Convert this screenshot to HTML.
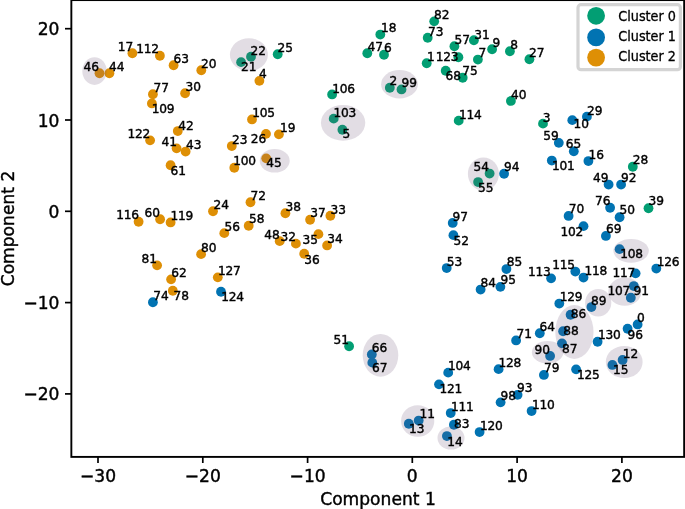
<!DOCTYPE html><html><head><meta charset="utf-8"><title>Clusters</title><style>html,body{margin:0;padding:0;background:#fff}svg{display:block;will-change:transform}text{font-family:"DejaVu Sans","Liberation Sans",sans-serif;fill:#000}</style></head><body>
<svg width="685" height="509" viewBox="0 0 685 509">
<rect width="685" height="509" fill="#fff"/>
<g>
<circle cx="99.5" cy="73.25" r="4.9" fill="#de8f05"/>
<circle cx="109.4" cy="73.25" r="4.9" fill="#de8f05"/>
<circle cx="132.4" cy="53.25" r="4.9" fill="#de8f05"/>
<circle cx="159.9" cy="55.75" r="4.9" fill="#de8f05"/>
<circle cx="173.6" cy="65.25" r="4.9" fill="#de8f05"/>
<circle cx="201.3" cy="70.25" r="4.9" fill="#de8f05"/>
<circle cx="152.9" cy="94.25" r="4.9" fill="#de8f05"/>
<circle cx="185.1" cy="93.25" r="4.9" fill="#de8f05"/>
<circle cx="151.9" cy="103.45" r="4.9" fill="#de8f05"/>
<circle cx="251.0" cy="56.75" r="4.9" fill="#029e73"/>
<circle cx="241.1" cy="62.15" r="4.9" fill="#029e73"/>
<circle cx="277.7" cy="54.25" r="4.9" fill="#029e73"/>
<circle cx="259.4" cy="80.85" r="4.9" fill="#de8f05"/>
<circle cx="380.3" cy="34.55" r="4.9" fill="#029e73"/>
<circle cx="367.3" cy="53.25" r="4.9" fill="#029e73"/>
<circle cx="384.0" cy="54.75" r="4.9" fill="#029e73"/>
<circle cx="332.1" cy="94.45" r="4.9" fill="#029e73"/>
<circle cx="389.8" cy="87.75" r="4.9" fill="#029e73"/>
<circle cx="401.5" cy="89.45" r="4.9" fill="#029e73"/>
<circle cx="252.0" cy="119.45" r="4.9" fill="#de8f05"/>
<circle cx="333.7" cy="118.65" r="4.9" fill="#029e73"/>
<circle cx="342.4" cy="129.75" r="4.9" fill="#029e73"/>
<circle cx="434.2" cy="21.35" r="4.9" fill="#029e73"/>
<circle cx="427.7" cy="37.75" r="4.9" fill="#029e73"/>
<circle cx="454.4" cy="46.25" r="4.9" fill="#029e73"/>
<circle cx="473.9" cy="40.25" r="4.9" fill="#029e73"/>
<circle cx="492.1" cy="49.25" r="4.9" fill="#029e73"/>
<circle cx="509.9" cy="51.25" r="4.9" fill="#029e73"/>
<circle cx="529.4" cy="59.25" r="4.9" fill="#029e73"/>
<circle cx="477.9" cy="59.55" r="4.9" fill="#029e73"/>
<circle cx="426.7" cy="63.25" r="4.9" fill="#029e73"/>
<circle cx="458.4" cy="57.25" r="4.9" fill="#029e73"/>
<circle cx="445.7" cy="70.75" r="4.9" fill="#029e73"/>
<circle cx="462.7" cy="77.75" r="4.9" fill="#029e73"/>
<circle cx="510.9" cy="100.95" r="4.9" fill="#029e73"/>
<circle cx="458.7" cy="120.65" r="4.9" fill="#029e73"/>
<circle cx="543.0" cy="123.65" r="4.9" fill="#029e73"/>
<circle cx="572.3" cy="120.15" r="4.9" fill="#0173b2"/>
<circle cx="586.9" cy="116.65" r="4.9" fill="#0173b2"/>
<circle cx="177.8" cy="131.05" r="4.9" fill="#de8f05"/>
<circle cx="150.1" cy="140.35" r="4.9" fill="#de8f05"/>
<circle cx="176.6" cy="148.35" r="4.9" fill="#de8f05"/>
<circle cx="185.6" cy="151.55" r="4.9" fill="#de8f05"/>
<circle cx="170.6" cy="165.25" r="4.9" fill="#de8f05"/>
<circle cx="231.8" cy="146.05" r="4.9" fill="#de8f05"/>
<circle cx="234.3" cy="167.75" r="4.9" fill="#de8f05"/>
<circle cx="138.6" cy="221.75" r="4.9" fill="#de8f05"/>
<circle cx="160.1" cy="219.25" r="4.9" fill="#de8f05"/>
<circle cx="170.6" cy="222.45" r="4.9" fill="#de8f05"/>
<circle cx="213.0" cy="211.25" r="4.9" fill="#de8f05"/>
<circle cx="224.3" cy="233.15" r="4.9" fill="#de8f05"/>
<circle cx="201.1" cy="254.15" r="4.9" fill="#de8f05"/>
<circle cx="266.0" cy="133.85" r="4.9" fill="#de8f05"/>
<circle cx="278.9" cy="134.35" r="4.9" fill="#de8f05"/>
<circle cx="266.2" cy="158.35" r="4.9" fill="#de8f05"/>
<circle cx="250.5" cy="202.25" r="4.9" fill="#de8f05"/>
<circle cx="285.4" cy="213.25" r="4.9" fill="#de8f05"/>
<circle cx="310.1" cy="219.75" r="4.9" fill="#de8f05"/>
<circle cx="330.4" cy="215.75" r="4.9" fill="#de8f05"/>
<circle cx="248.7" cy="225.75" r="4.9" fill="#de8f05"/>
<circle cx="279.7" cy="241.15" r="4.9" fill="#de8f05"/>
<circle cx="295.9" cy="243.65" r="4.9" fill="#de8f05"/>
<circle cx="318.4" cy="234.15" r="4.9" fill="#de8f05"/>
<circle cx="327.1" cy="245.45" r="4.9" fill="#de8f05"/>
<circle cx="304.2" cy="253.75" r="4.9" fill="#de8f05"/>
<circle cx="558.8" cy="142.85" r="4.9" fill="#0173b2"/>
<circle cx="573.8" cy="151.35" r="4.9" fill="#0173b2"/>
<circle cx="551.8" cy="160.55" r="4.9" fill="#0173b2"/>
<circle cx="489.6" cy="173.55" r="4.9" fill="#029e73"/>
<circle cx="478.1" cy="182.05" r="4.9" fill="#029e73"/>
<circle cx="504.1" cy="173.75" r="4.9" fill="#0173b2"/>
<circle cx="452.7" cy="222.95" r="4.9" fill="#0173b2"/>
<circle cx="453.4" cy="235.15" r="4.9" fill="#0173b2"/>
<circle cx="568.6" cy="215.95" r="4.9" fill="#0173b2"/>
<circle cx="583.5" cy="226.15" r="4.9" fill="#0173b2"/>
<circle cx="588.4" cy="161.05" r="4.9" fill="#0173b2"/>
<circle cx="632.8" cy="166.75" r="4.9" fill="#029e73"/>
<circle cx="608.6" cy="184.55" r="4.9" fill="#0173b2"/>
<circle cx="621.1" cy="184.55" r="4.9" fill="#0173b2"/>
<circle cx="610.1" cy="207.75" r="4.9" fill="#0173b2"/>
<circle cx="619.6" cy="217.25" r="4.9" fill="#0173b2"/>
<circle cx="648.5" cy="208.25" r="4.9" fill="#029e73"/>
<circle cx="605.9" cy="235.95" r="4.9" fill="#0173b2"/>
<circle cx="619.6" cy="249.15" r="4.9" fill="#0173b2"/>
<circle cx="157.1" cy="265.35" r="4.9" fill="#de8f05"/>
<circle cx="171.1" cy="279.35" r="4.9" fill="#de8f05"/>
<circle cx="172.8" cy="290.75" r="4.9" fill="#de8f05"/>
<circle cx="152.9" cy="302.25" r="4.9" fill="#0173b2"/>
<circle cx="217.8" cy="277.35" r="4.9" fill="#de8f05"/>
<circle cx="221.0" cy="291.75" r="4.9" fill="#0173b2"/>
<circle cx="349.1" cy="346.25" r="4.9" fill="#029e73"/>
<circle cx="371.8" cy="354.45" r="4.9" fill="#0173b2"/>
<circle cx="372.3" cy="362.65" r="4.9" fill="#0173b2"/>
<circle cx="446.7" cy="268.05" r="4.9" fill="#0173b2"/>
<circle cx="506.4" cy="269.05" r="4.9" fill="#0173b2"/>
<circle cx="480.6" cy="289.55" r="4.9" fill="#0173b2"/>
<circle cx="500.4" cy="286.85" r="4.9" fill="#0173b2"/>
<circle cx="551.1" cy="278.35" r="4.9" fill="#0173b2"/>
<circle cx="575.3" cy="271.55" r="4.9" fill="#0173b2"/>
<circle cx="583.5" cy="277.55" r="4.9" fill="#0173b2"/>
<circle cx="559.3" cy="303.55" r="4.9" fill="#0173b2"/>
<circle cx="570.6" cy="314.75" r="4.9" fill="#0173b2"/>
<circle cx="539.8" cy="333.25" r="4.9" fill="#0173b2"/>
<circle cx="563.1" cy="331.25" r="4.9" fill="#0173b2"/>
<circle cx="516.1" cy="340.45" r="4.9" fill="#0173b2"/>
<circle cx="562.0" cy="343.35" r="4.9" fill="#0173b2"/>
<circle cx="550.1" cy="355.95" r="4.9" fill="#0173b2"/>
<circle cx="448.2" cy="372.65" r="4.9" fill="#0173b2"/>
<circle cx="498.6" cy="369.15" r="4.9" fill="#0173b2"/>
<circle cx="543.9" cy="374.95" r="4.9" fill="#0173b2"/>
<circle cx="576.1" cy="369.35" r="4.9" fill="#0173b2"/>
<circle cx="439.0" cy="384.35" r="4.9" fill="#0173b2"/>
<circle cx="656.3" cy="268.55" r="4.9" fill="#0173b2"/>
<circle cx="635.6" cy="273.35" r="4.9" fill="#0173b2"/>
<circle cx="633.8" cy="286.05" r="4.9" fill="#0173b2"/>
<circle cx="630.8" cy="297.75" r="4.9" fill="#0173b2"/>
<circle cx="591.4" cy="307.05" r="4.9" fill="#0173b2"/>
<circle cx="637.6" cy="324.45" r="4.9" fill="#0173b2"/>
<circle cx="627.6" cy="328.75" r="4.9" fill="#0173b2"/>
<circle cx="597.6" cy="341.75" r="4.9" fill="#0173b2"/>
<circle cx="622.6" cy="359.95" r="4.9" fill="#0173b2"/>
<circle cx="612.4" cy="364.95" r="4.9" fill="#0173b2"/>
<circle cx="517.6" cy="394.85" r="4.9" fill="#0173b2"/>
<circle cx="500.6" cy="402.35" r="4.9" fill="#0173b2"/>
<circle cx="531.6" cy="411.05" r="4.9" fill="#0173b2"/>
<circle cx="450.7" cy="413.05" r="4.9" fill="#0173b2"/>
<circle cx="418.7" cy="420.55" r="4.9" fill="#0173b2"/>
<circle cx="453.9" cy="424.75" r="4.9" fill="#0173b2"/>
<circle cx="479.6" cy="432.05" r="4.9" fill="#0173b2"/>
<circle cx="446.9" cy="436.05" r="4.9" fill="#0173b2"/>
<circle cx="408.8" cy="423.75" r="4.9" fill="#0173b2"/>
</g><g fill="#6e5578" fill-opacity="0.2">
<ellipse cx="94.5" cy="71.1" rx="12.2" ry="13.8"/>
<ellipse cx="248.9" cy="54.7" rx="19.0" ry="16.5"/>
<ellipse cx="399.5" cy="84.2" rx="18.4" ry="14.2"/>
<ellipse cx="343.1" cy="122.8" rx="22.2" ry="17.9"/>
<ellipse cx="274.7" cy="160.8" rx="15.0" ry="11.8"/>
<ellipse cx="483.4" cy="174.0" rx="15.5" ry="16.5"/>
<ellipse cx="631.1" cy="250.8" rx="17.7" ry="11.9"/>
<ellipse cx="380.5" cy="355.3" rx="17.8" ry="21.4"/>
<ellipse cx="547.6" cy="352.2" rx="15.7" ry="11.3"/>
<ellipse cx="574.4" cy="332.0" rx="19.1" ry="26.9"/>
<ellipse cx="624.8" cy="291.7" rx="16.5" ry="14.1"/>
<ellipse cx="598.2" cy="302.7" rx="13.1" ry="13.8"/>
<ellipse cx="624.2" cy="362.0" rx="18.4" ry="16.1"/>
<ellipse cx="451.0" cy="438.0" rx="13.5" ry="11.6"/>
<ellipse cx="417.7" cy="421.0" rx="16.6" ry="15.8"/>
</g><g font-size="12.2" stroke="#000" stroke-width="0.4">
<text transform="translate(83.5,71.0) scale(1,1.07)">46</text>
<text transform="translate(109.0,71.0) scale(1,1.07)">44</text>
<text transform="translate(117.8,51.3) scale(1,1.07)">17</text>
<text transform="translate(136.2,53.3) scale(1,1.07)" letter-spacing="-0.25">112</text>
<text transform="translate(173.4,63.3) scale(1,1.07)">63</text>
<text transform="translate(200.9,68.0) scale(1,1.07)">20</text>
<text transform="translate(153.5,92.0) scale(1,1.07)">77</text>
<text transform="translate(185.4,91.0) scale(1,1.07)">30</text>
<text transform="translate(151.7,113.2) scale(1,1.07)" letter-spacing="-0.25">109</text>
<text transform="translate(250.6,54.8) scale(1,1.07)">22</text>
<text transform="translate(241.0,71.1) scale(1,1.07)">21</text>
<text transform="translate(277.4,52.1) scale(1,1.07)">25</text>
<text transform="translate(259.1,78.1) scale(1,1.07)">4</text>
<text transform="translate(381.1,32.4) scale(1,1.07)">18</text>
<text transform="translate(367.4,51.3) scale(1,1.07)">47</text>
<text transform="translate(384.1,52.3) scale(1,1.07)">6</text>
<text transform="translate(332.2,93.2) scale(1,1.07)" letter-spacing="-0.25">106</text>
<text transform="translate(389.4,85.3) scale(1,1.07)">2</text>
<text transform="translate(401.6,87.3) scale(1,1.07)">99</text>
<text transform="translate(252.2,117.2) scale(1,1.07)" letter-spacing="-0.25">105</text>
<text transform="translate(333.4,117.1) scale(1,1.07)" letter-spacing="-0.25">103</text>
<text transform="translate(342.6,138.2) scale(1,1.07)">5</text>
<text transform="translate(434.1,19.1) scale(1,1.07)">82</text>
<text transform="translate(428.1,35.6) scale(1,1.07)">73</text>
<text transform="translate(454.4,44.1) scale(1,1.07)">57</text>
<text transform="translate(474.2,38.6) scale(1,1.07)">31</text>
<text transform="translate(492.4,46.8) scale(1,1.07)">9</text>
<text transform="translate(510.2,48.8) scale(1,1.07)">8</text>
<text transform="translate(529.1,56.8) scale(1,1.07)">27</text>
<text transform="translate(478.4,57.1) scale(1,1.07)">7</text>
<text transform="translate(427.1,61.1) scale(1,1.07)">1</text>
<text transform="translate(435.8,61.1) scale(1,1.07)" letter-spacing="-0.25">123</text>
<text transform="translate(445.4,80.3) scale(1,1.07)">68</text>
<text transform="translate(462.2,75.3) scale(1,1.07)">75</text>
<text transform="translate(510.9,98.5) scale(1,1.07)">40</text>
<text transform="translate(458.9,118.5) scale(1,1.07)" letter-spacing="-0.25">114</text>
<text transform="translate(542.8,122.0) scale(1,1.07)">3</text>
<text transform="translate(573.5,128.0) scale(1,1.07)">10</text>
<text transform="translate(587.1,115.0) scale(1,1.07)">29</text>
<text transform="translate(178.2,129.6) scale(1,1.07)">42</text>
<text transform="translate(127.4,138.1) scale(1,1.07)" letter-spacing="-0.25">122</text>
<text transform="translate(161.5,145.6) scale(1,1.07)">41</text>
<text transform="translate(185.9,149.4) scale(1,1.07)">43</text>
<text transform="translate(170.4,174.8) scale(1,1.07)">61</text>
<text transform="translate(231.9,143.6) scale(1,1.07)">23</text>
<text transform="translate(233.2,165.3) scale(1,1.07)" letter-spacing="-0.25">100</text>
<text transform="translate(116.2,219.0) scale(1,1.07)" letter-spacing="-0.25">116</text>
<text transform="translate(144.5,216.8) scale(1,1.07)">60</text>
<text transform="translate(170.6,220.3) scale(1,1.07)" letter-spacing="-0.25">119</text>
<text transform="translate(213.4,209.0) scale(1,1.07)">24</text>
<text transform="translate(224.4,230.5) scale(1,1.07)">56</text>
<text transform="translate(200.9,251.7) scale(1,1.07)">80</text>
<text transform="translate(250.8,142.9) scale(1,1.07)">26</text>
<text transform="translate(279.9,131.9) scale(1,1.07)">19</text>
<text transform="translate(266.2,167.3) scale(1,1.07)">45</text>
<text transform="translate(250.6,200.0) scale(1,1.07)">72</text>
<text transform="translate(285.4,211.0) scale(1,1.07)">38</text>
<text transform="translate(310.2,217.3) scale(1,1.07)">37</text>
<text transform="translate(330.4,213.5) scale(1,1.07)">33</text>
<text transform="translate(249.1,223.3) scale(1,1.07)">58</text>
<text transform="translate(264.2,238.7) scale(1,1.07)">48</text>
<text transform="translate(280.4,241.2) scale(1,1.07)">32</text>
<text transform="translate(302.4,243.7) scale(1,1.07)">35</text>
<text transform="translate(327.2,243.2) scale(1,1.07)">34</text>
<text transform="translate(304.2,263.9) scale(1,1.07)">36</text>
<text transform="translate(543.3,140.4) scale(1,1.07)">59</text>
<text transform="translate(565.8,148.4) scale(1,1.07)">65</text>
<text transform="translate(552.0,170.1) scale(1,1.07)" letter-spacing="-0.25">101</text>
<text transform="translate(473.4,171.3) scale(1,1.07)">54</text>
<text transform="translate(477.9,191.8) scale(1,1.07)">55</text>
<text transform="translate(503.9,171.3) scale(1,1.07)">94</text>
<text transform="translate(452.4,220.8) scale(1,1.07)">97</text>
<text transform="translate(453.4,244.5) scale(1,1.07)">52</text>
<text transform="translate(568.8,213.3) scale(1,1.07)">70</text>
<text transform="translate(560.5,235.5) scale(1,1.07)" letter-spacing="-0.25">102</text>
<text transform="translate(588.6,158.6) scale(1,1.07)">16</text>
<text transform="translate(632.8,164.3) scale(1,1.07)">28</text>
<text transform="translate(592.9,181.8) scale(1,1.07)">49</text>
<text transform="translate(621.1,181.8) scale(1,1.07)">92</text>
<text transform="translate(594.9,205.0) scale(1,1.07)">76</text>
<text transform="translate(619.6,214.3) scale(1,1.07)">50</text>
<text transform="translate(648.5,205.3) scale(1,1.07)">39</text>
<text transform="translate(605.9,233.2) scale(1,1.07)">69</text>
<text transform="translate(620.2,258.4) scale(1,1.07)" letter-spacing="-0.25">108</text>
<text transform="translate(141.5,263.1) scale(1,1.07)">81</text>
<text transform="translate(171.2,276.9) scale(1,1.07)">62</text>
<text transform="translate(173.4,300.1) scale(1,1.07)">78</text>
<text transform="translate(153.2,300.1) scale(1,1.07)">74</text>
<text transform="translate(218.1,274.9) scale(1,1.07)" letter-spacing="-0.25">127</text>
<text transform="translate(221.2,301.3) scale(1,1.07)" letter-spacing="-0.25">124</text>
<text transform="translate(333.4,343.8) scale(1,1.07)">51</text>
<text transform="translate(371.7,351.8) scale(1,1.07)">66</text>
<text transform="translate(371.9,372.2) scale(1,1.07)">67</text>
<text transform="translate(446.8,265.6) scale(1,1.07)">53</text>
<text transform="translate(506.7,266.4) scale(1,1.07)">85</text>
<text transform="translate(480.4,287.1) scale(1,1.07)">84</text>
<text transform="translate(500.4,284.4) scale(1,1.07)">95</text>
<text transform="translate(528.1,275.9) scale(1,1.07)" letter-spacing="-0.25">113</text>
<text transform="translate(552.2,268.9) scale(1,1.07)" letter-spacing="-0.25">115</text>
<text transform="translate(584.4,274.9) scale(1,1.07)" letter-spacing="-0.25">118</text>
<text transform="translate(559.8,301.1) scale(1,1.07)" letter-spacing="-0.25">129</text>
<text transform="translate(570.8,318.3) scale(1,1.07)">86</text>
<text transform="translate(539.6,330.8) scale(1,1.07)">64</text>
<text transform="translate(563.3,334.5) scale(1,1.07)">88</text>
<text transform="translate(516.6,338.3) scale(1,1.07)">71</text>
<text transform="translate(562.0,352.6) scale(1,1.07)">87</text>
<text transform="translate(534.6,353.5) scale(1,1.07)">90</text>
<text transform="translate(448.1,370.2) scale(1,1.07)" letter-spacing="-0.25">104</text>
<text transform="translate(498.6,366.7) scale(1,1.07)" letter-spacing="-0.25">128</text>
<text transform="translate(544.1,372.2) scale(1,1.07)">79</text>
<text transform="translate(577.0,378.7) scale(1,1.07)" letter-spacing="-0.25">125</text>
<text transform="translate(439.4,393.4) scale(1,1.07)" letter-spacing="-0.25">121</text>
<text transform="translate(656.8,266.1) scale(1,1.07)" letter-spacing="-0.25">126</text>
<text transform="translate(612.6,276.6) scale(1,1.07)" letter-spacing="-0.25">117</text>
<text transform="translate(607.6,295.1) scale(1,1.07)" letter-spacing="-0.25">107</text>
<text transform="translate(633.6,295.1) scale(1,1.07)">91</text>
<text transform="translate(591.1,304.6) scale(1,1.07)">89</text>
<text transform="translate(637.1,322.3) scale(1,1.07)">0</text>
<text transform="translate(627.6,338.5) scale(1,1.07)">96</text>
<text transform="translate(598.1,339.3) scale(1,1.07)" letter-spacing="-0.25">130</text>
<text transform="translate(622.8,357.5) scale(1,1.07)">12</text>
<text transform="translate(612.9,374.2) scale(1,1.07)">15</text>
<text transform="translate(517.1,392.4) scale(1,1.07)">93</text>
<text transform="translate(500.4,400.1) scale(1,1.07)">98</text>
<text transform="translate(532.0,408.6) scale(1,1.07)" letter-spacing="-0.25">110</text>
<text transform="translate(451.1,410.6) scale(1,1.07)" letter-spacing="-0.25">111</text>
<text transform="translate(419.4,418.3) scale(1,1.07)">11</text>
<text transform="translate(453.9,428.3) scale(1,1.07)">83</text>
<text transform="translate(480.1,429.6) scale(1,1.07)" letter-spacing="-0.25">120</text>
<text transform="translate(447.2,445.8) scale(1,1.07)">14</text>
<text transform="translate(408.9,432.8) scale(1,1.07)">13</text>
</g>
<rect x="71.35" y="0.1" width="612.8" height="456.8" fill="none" stroke="#000" stroke-width="1.9"/>
<g stroke="#000" stroke-width="1.7">
<line x1="98.0" y1="456.85" x2="98.0" y2="463.0"/>
<line x1="202.8" y1="456.85" x2="202.8" y2="463.0"/>
<line x1="307.6" y1="456.85" x2="307.6" y2="463.0"/>
<line x1="412.3" y1="456.85" x2="412.3" y2="463.0"/>
<line x1="517.1" y1="456.85" x2="517.1" y2="463.0"/>
<line x1="621.9" y1="456.85" x2="621.9" y2="463.0"/>
<line x1="71.35" y1="28.7" x2="65.0" y2="28.7"/>
<line x1="71.35" y1="120.0" x2="65.0" y2="120.0"/>
<line x1="71.35" y1="211.3" x2="65.0" y2="211.3"/>
<line x1="71.35" y1="302.6" x2="65.0" y2="302.6"/>
<line x1="71.35" y1="393.9" x2="65.0" y2="393.9"/>
</g><g font-size="17.1" stroke="#000" stroke-width="0.4">
<text transform="translate(98.0,481.6) scale(1,1.03)" text-anchor="middle">−30</text>
<text transform="translate(202.8,481.6) scale(1,1.03)" text-anchor="middle">−20</text>
<text transform="translate(307.6,481.6) scale(1,1.03)" text-anchor="middle">−10</text>
<text transform="translate(412.3,481.6) scale(1,1.03)" text-anchor="middle">0</text>
<text transform="translate(517.1,481.6) scale(1,1.03)" text-anchor="middle">10</text>
<text transform="translate(621.9,481.6) scale(1,1.03)" text-anchor="middle">20</text>
<text transform="translate(59.5,35.2) scale(1,1.03)" text-anchor="end">20</text>
<text transform="translate(59.5,126.5) scale(1,1.03)" text-anchor="end">10</text>
<text transform="translate(59.5,217.8) scale(1,1.03)" text-anchor="end">0</text>
<text transform="translate(59.5,309.1) scale(1,1.03)" text-anchor="end">−10</text>
<text transform="translate(59.5,400.4) scale(1,1.03)" text-anchor="end">−20</text>
<text x="378" y="505.2" text-anchor="middle">Component 1</text>
<text transform="translate(14,228.5) rotate(-90)" text-anchor="middle">Component 2</text>
</g>
<rect x="578.0" y="4.7" width="102.4" height="65.0" rx="3" fill="#fff" stroke="#d4d4d4" stroke-width="3.2"/>
<circle cx="596.1" cy="15.8" r="8.9" fill="#029e73"/>
<text transform="translate(618.3,20.5) scale(1,1.07)" font-size="12.8" stroke="#000" stroke-width="0.3">Cluster 0</text>
<circle cx="596.1" cy="37.4" r="8.9" fill="#0173b2"/>
<text transform="translate(618.3,40.8) scale(1,1.07)" font-size="12.8" stroke="#000" stroke-width="0.3">Cluster 1</text>
<circle cx="596.1" cy="57.6" r="8.9" fill="#de8f05"/>
<text transform="translate(618.3,60.8) scale(1,1.07)" font-size="12.8" stroke="#000" stroke-width="0.3">Cluster 2</text>
</svg></body></html>
